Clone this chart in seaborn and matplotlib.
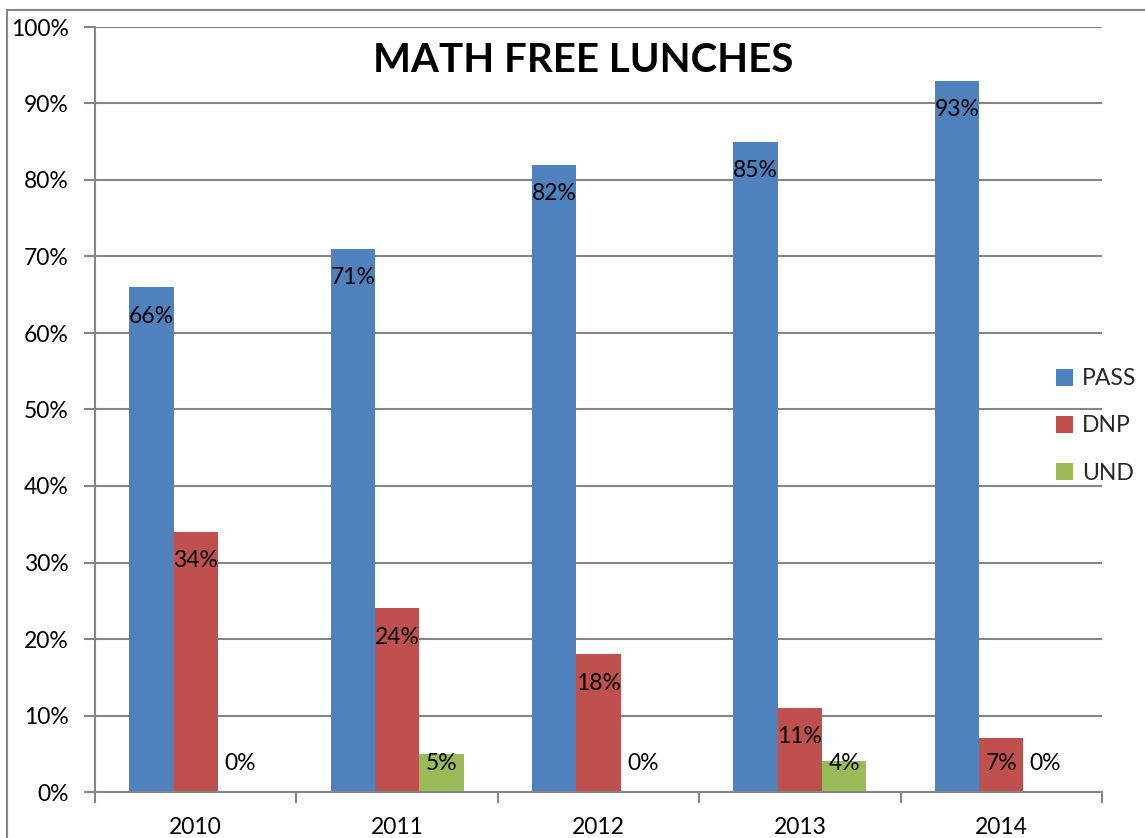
import matplotlib
matplotlib.use("Agg")
import matplotlib.pyplot as plt
import matplotlib.patches as mpatches
from matplotlib.ticker import MultipleLocator, FixedLocator
import seaborn as sns
import pandas as pd

years = ["2010", "2011", "2012", "2013", "2014"]
pass_vals = [66, 71, 82, 85, 93]
dnp_vals = [34, 24, 18, 11, 7]
und_vals = [0, 5, 0, 4, 0]
series = ["PASS", "DNP", "UND"]
colors = ["#4F81BD", "#C0504D", "#9BBB59"]
title = "MATH FREE LUNCHES"

rows = []
for name, vals in zip(series, [pass_vals, dnp_vals, und_vals]):
    for y, v in zip(years, vals):
        rows.append({"Year": y, "Series": name, "Value": v})
df = pd.DataFrame(rows)

sns.set_style("white")
plt.rcParams["font.family"] = ["Lato", "DejaVu Sans"]

FS = 16.5
fig = plt.figure(figsize=(11.45, 8.38), dpi=100)
W, H = 1145, 838
ax = fig.add_axes([95 / W, 1 - 792 / H, (1102 - 95) / W, (792 - 27) / H])

sns.barplot(data=df, x="Year", y="Value", hue="Series", palette=colors,
            width=0.66, ax=ax, errorbar=None, saturation=1, legend=True,
            linewidth=0, edgecolor="none")

ax.set_ylim(0, 100)
ax.set_xlim(-0.5, 4.5)
ax.yaxis.set_major_locator(MultipleLocator(10))
ax.set_yticklabels([f"{int(t)}%" for t in ax.get_yticks()])
ax.grid(axis="y", color="#868686", linewidth=1.5)
ax.set_axisbelow(True)
ax.set_xlabel("")
ax.set_ylabel("")

for s in ["top", "right"]:
    ax.spines[s].set_visible(False)
for s in ["left", "bottom"]:
    ax.spines[s].set_color("#868686")
    ax.spines[s].set_linewidth(1.5)

ax.tick_params(axis="y", which="major", length=8, width=1.5, color="#868686",
               pad=11, labelsize=FS, labelcolor="black", left=True)
ax.tick_params(axis="x", which="major", length=0, pad=18, labelsize=FS,
               labelcolor="black")
ax.xaxis.set_minor_locator(FixedLocator([-0.5, 0.5, 1.5, 2.5, 3.5, 4.5]))
ax.tick_params(axis="x", which="minor", length=8, width=1.5, color="#868686",
               bottom=True)

for cont, vals in zip(ax.containers, [pass_vals, dnp_vals, und_vals]):
    for bar, v in zip(cont, vals):
        cx = bar.get_x() + bar.get_width() / 2
        ly = max(v - 3.8, 3.7)
        ax.text(cx, ly, f"{v}%", ha="center", va="center", fontsize=FS,
                color="black")

handles, labels = ax.get_legend_handles_labels()
ax.legend(handles, labels, loc="center left",
          bbox_to_anchor=(1056 / W, 1 - 426 / H), bbox_transform=fig.transFigure,
          frameon=False, fontsize=FS, handlelength=0.75, handleheight=0.75,
          handletextpad=0.4, labelspacing=1.15, borderaxespad=0, borderpad=0)

fig.text(583 / W, 1 - 61 / H, title, ha="center", va="center",
         fontsize=29, fontweight="bold", color="black")

fig.patches.append(mpatches.Rectangle((7 / W, -0.01), 1.2, 1 - 10 / H + 0.01,
                                      transform=fig.transFigure, fill=False,
                                      edgecolor="#868686", linewidth=1.5))

fig.savefig("out.png", dpi=100)
